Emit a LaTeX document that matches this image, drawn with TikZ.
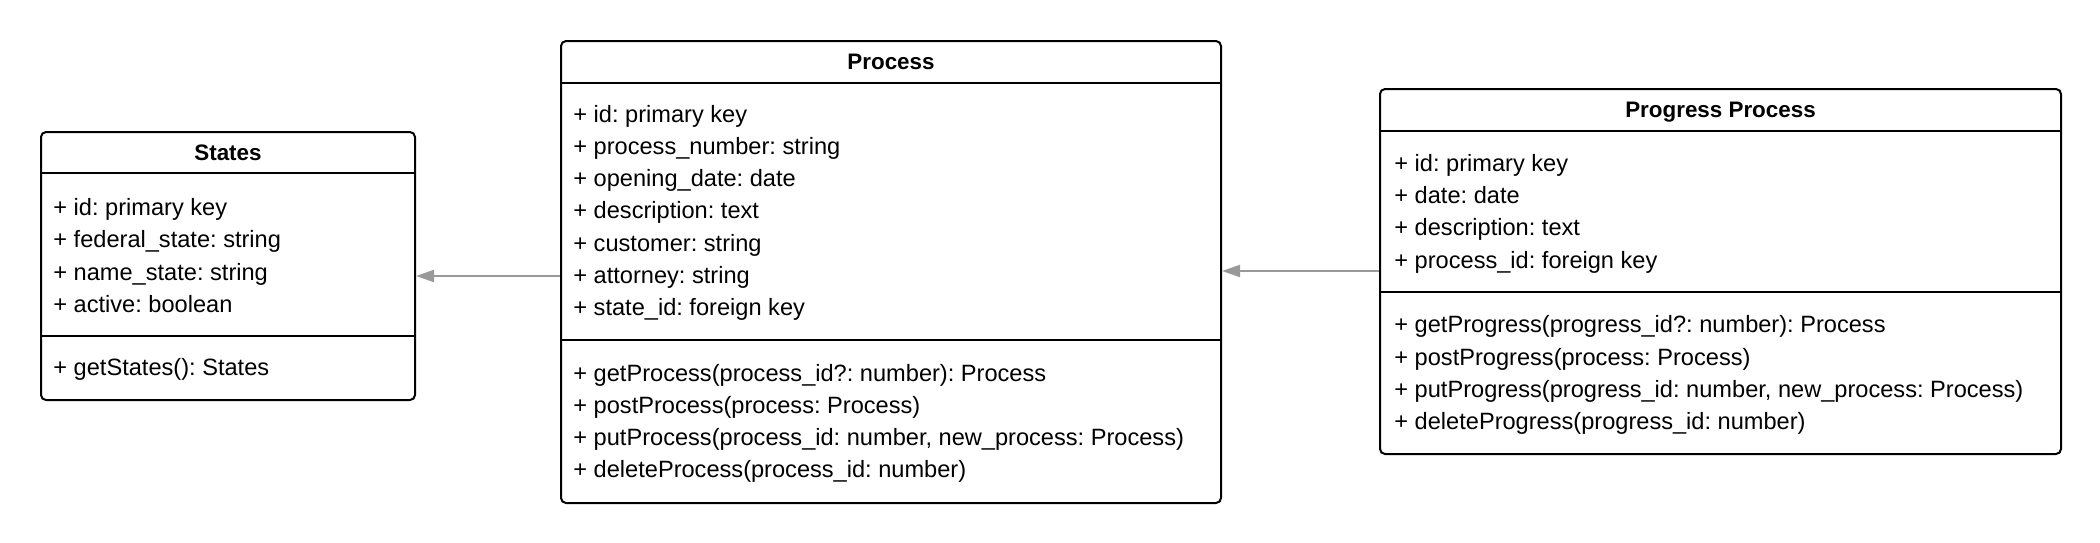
\documentclass[tikz,border=0pt]{standalone}
\usepackage{fontspec}
\setmainfont{Liberation Sans}
\usetikzlibrary{positioning,arrows.meta}
\frenchspacing

\begin{document}
\begin{tikzpicture}[x=0.5pt,y=-0.5pt,
  classbox/.style ={draw=black,line width=1pt,rounded corners=2.5pt,anchor=north west,inner sep=0pt},
  divider/.style  ={black,line width=1pt},
  title/.style    ={font=\fontsize{11.2}{13}\selectfont\bfseries,text height=8.5pt,text depth=1.5pt,inner sep=0pt},
  member/.style   ={anchor=west,inner sep=0pt,text height=8.5pt,text depth=1.5pt,
                    font=\fontsize{11.8}{13}\selectfont},
  assoc/.style    ={draw=black!40,line width=1pt,-{Triangle[length=9pt,width=6pt]}}
]
  % ----- canvas -----
  \useasboundingbox (0,0) rectangle (2100,542);

  % ----- class boxes -----
  \node[classbox,minimum width=187pt,minimum height=134pt] (states) at (40,131) {};
  \node[classbox,minimum width=330pt,minimum height=231pt] (process) at (560,40) {};
  \node[classbox,minimum width=340.5pt,minimum height=182.5pt] (progress) at (1379,88) {};

  % header and operation dividers
  \draw[divider] (states.west |- 0,173) -- (states.east |- 0,173);
  \draw[divider] (states.west |- 0,336) -- (states.east |- 0,336);
  \draw[divider] (process.west |- 0,83) -- (process.east |- 0,83);
  \draw[divider] (process.west |- 0,340) -- (process.east |- 0,340);
  \draw[divider] (progress.west |- 0,131) -- (progress.east |- 0,131);
  \draw[divider] (progress.west |- 0,292) -- (progress.east |- 0,292);

  % ----- titles -----
  \node[title] (statesTitle) at (states.north |- 0,153) {States};
  \node[title] (processTitle) at (process.north |- 0,62) {Process};
  \node[title] (progressTitle) at (progress.north |- 0,110) {Progress Process};

  % ----- States members -----
  \foreach \y/\txt in {208/{+ id: primary key},240/{+ federal\_state: string},
      273/{+ name\_state: string},305/{+ active: boolean},368/{+ getStates(): States}}
    \node[member] at (53,\y) {\txt};

  % ----- Process members -----
  \foreach \y/\txt in {115/{+ id: primary key},147/{+ process\_number: string},
      179/{+ opening\_date: date},211/{+ description: text},244/{+ customer: string},
      276/{+ attorney: string},308/{+ state\_id: foreign key},
      374/{+ getProcess(process\_id?: number): Process},
      406/{+ postProcess(process: Process)},
      438/{+ putProcess(process\_id: number, new\_process: Process)},
      470/{+ deleteProcess(process\_id: number)}}
    \node[member] at (573,\y) {\txt};

  % ----- Progress Process members -----
  \foreach \y/\txt in {164/{+ id: primary key},196/{+ date: date},
      228/{+ description: text},261/{+ process\_id: foreign key},
      325/{+ getProgress(progress\_id?: number): Process},
      358/{+ postProgress(process: Process)},
      390/{+ putProgress(progress\_id: number, new\_process: Process)},
      422/{+ deleteProgress(progress\_id: number)}}
    \node[member] at (1394,\y) {\txt};

  % ----- associations -----
  \draw[assoc] (process.west |- 0,276) -- (states.east |- 0,276);
  \draw[assoc] (progress.west |- 0,271) -- (process.east |- 0,271);
\end{tikzpicture}
\end{document}
